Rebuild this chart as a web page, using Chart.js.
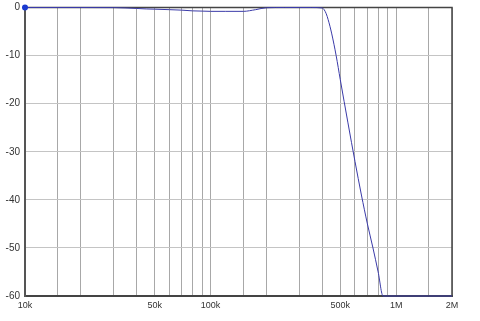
<!DOCTYPE html>
<html>
<head>
<meta charset="utf-8">
<script src="https://cdn.jsdelivr.net/npm/chart.js@4/dist/chart.umd.min.js"></script>
<style>
  html, body { margin: 0; padding: 0; background: #ffffff; }
  #wrap { width: 480px; height: 321px; }
</style>
</head>
<body>
<div id="wrap"><canvas id="c" width="480" height="321"></canvas></div>
<script>
// Frequency (Hz) and gain (dB)
const freqs = [10000, 20000, 30000, 35000, 40000, 45000, 50000, 60000, 70000, 80000, 90000,
  100000, 120000, 150000, 175000, 200000, 250000, 300000, 350000, 400000, 410000, 420000,
  430000, 450000, 475000, 500000, 550000, 600000, 650000, 700000, 750000, 800000, 850000,
  1000000, 1500000, 2000000];
const gains = [0, 0, -0.02, -0.1, -0.2, -0.3, -0.35, -0.45, -0.55, -0.7, -0.75,
  -0.8, -0.8, -0.8, -0.45, -0.05, 0, 0, 0, -0.1, -0.5, -1.3,
  -2.5, -5.5, -10, -15, -24, -32, -39, -45, -50, -55, -60,
  -60, -60, -60];

// Vertical grid line positions (Hz)
const gridFreqs = [10000, 15000, 20000, 30000, 40000, 50000, 60000, 70000, 80000, 90000,
  100000, 150000, 200000, 300000, 400000, 500000, 600000, 700000, 800000, 900000,
  1000000, 1500000, 2000000];
// Labelled x ticks
const labelFreqs = [10000, 50000, 100000, 500000, 1000000, 2000000];
const labelTexts = ['10k', '50k', '100k', '500k', '1M', '2M'];
// y ticks
const yTicks = [0, -10, -20, -30, -40, -50, -60];

const frame = {
  id: 'frame',
  beforeDatasetsDraw(chart) {
    const { ctx, chartArea: a } = chart;
    ctx.save();
    ctx.strokeStyle = '#444444';
    ctx.lineWidth = 1.5;
    ctx.beginPath();
    ctx.moveTo(a.left, a.top);
    ctx.lineTo(a.right, a.top);
    ctx.lineTo(a.right, a.bottom);
    ctx.stroke();
    ctx.restore();
  }
};

new Chart(document.getElementById('c'), {
  type: 'line',
  data: {
    datasets: [{
      data: freqs.map((f, i) => ({ x: f, y: gains[i] })),
      borderColor: '#3a3aa8',
      borderWidth: 1,
      backgroundColor: '#1a3ad0',
      pointRadius: ctx => ctx.dataIndex === 0 ? 3 : 0,
      pointBackgroundColor: '#1a3ad0',
      pointBorderWidth: 0,
      cubicInterpolationMode: 'monotone',
      clip: 4
    }]
  },
  options: {
    responsive: false,
    devicePixelRatio: 1,
    animation: false,
    layout: { padding: { left: 0, right: 28, top: 7.5, bottom: 0 } },
    plugins: { legend: { display: false }, tooltip: { enabled: false } },
    scales: {
      x: {
        type: 'logarithmic',
        min: 10000,
        max: 2000000,
        afterBuildTicks: s => { s.ticks = gridFreqs.map(v => ({ value: v })); },
        afterFit: s => { s.height = 25; },
        grid: { color: '#a8a8a8', lineWidth: 1, drawTicks: false },
        border: { display: true, color: '#444444', width: 2 },
        ticks: {
          autoSkip: false,
          maxRotation: 0,
          padding: 4,
          color: '#333333',
          font: { family: 'Liberation Sans, Arial, sans-serif', size: 9 },
          callback: v => {
            const i = labelFreqs.indexOf(v);
            return i >= 0 ? labelTexts[i] : '';
          }
        }
      },
      y: {
        min: -60,
        max: 0,
        afterBuildTicks: s => { s.ticks = yTicks.map(v => ({ value: v })); },
        afterFit: s => { s.width = 25; s.paddingTop = 0; s.paddingBottom = 0; },
        grid: { color: '#c4c4c4', lineWidth: 1, drawTicks: false },
        border: { display: true, color: '#555555', width: 2 },
        ticks: {
          padding: 5,
          color: '#333333',
          font: { family: 'Liberation Sans, Arial, sans-serif', size: 10 },
          callback: v => String(v)
        }
      }
    }
  },
  plugins: [frame]
});
</script>
</body>
</html>
